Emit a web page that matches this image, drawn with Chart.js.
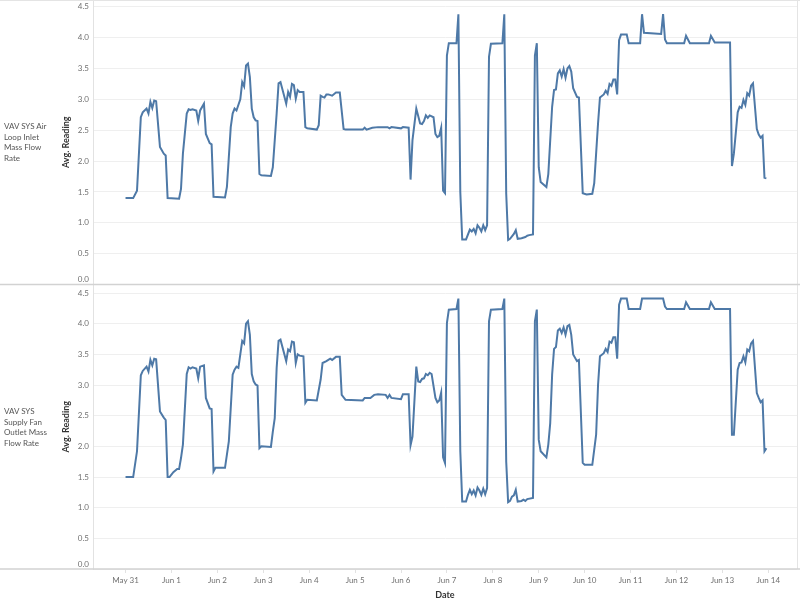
<!DOCTYPE html>
<html>
<head>
<meta charset="utf-8">
<title>VAV SYS mass flow rates</title>
<script src="https://cdn.jsdelivr.net/npm/chart.js@4"></script>
<style>
  body { margin: 0; background: #fff; }
  #wrap { position: relative; width: 800px; height: 606px; }
  .row-label { position: absolute; left: 4px; width: 55px; font-family: Lato, "Noto Sans", sans-serif; font-size: 8px; line-height: 10.5px; color: #555; }
</style>
</head>
<body>
<div id="wrap">
  <canvas id="myChart" width="800" height="606"></canvas>
  <div class="row-label" style="top:121px">VAV SYS Air<br>Loop Inlet<br>Mass Flow<br>Rate</div>
  <div class="row-label" style="top:406px">VAV SYS<br>Supply Fan<br>Outlet Mass<br>Flow Rate</div>
</div>
<script>
'use strict';

let dayLabels = ['May 31', 'Jun 1', 'Jun 2', 'Jun 3', 'Jun 4', 'Jun 5', 'Jun 6', 'Jun 7',
    'Jun 8', 'Jun 9', 'Jun 10', 'Jun 11', 'Jun 12', 'Jun 13', 'Jun 14'];
let yTicks = [0, 0.5, 1, 1.5, 2, 2.5, 3, 3.5, 4, 4.5];

// hours since May 31 00:00, avg. reading at that hour
let inletHours = [
    0, 4, 6, 8, 9, 11, 12, 13, 14, 15, 16, 18, 20, 21, 22,
    28, 29, 30, 32, 33, 34, 35, 37, 38, 39, 41, 42, 44, 45, 46,
    52, 53, 55, 56, 57, 58, 60, 61, 62, 63, 64, 65, 66, 67, 68, 69, 70, 71,
    76, 77, 79, 80, 81, 84, 85, 86, 87, 88, 89, 90, 91, 93, 94, 95,
    100, 101, 102, 103, 104, 105, 106, 108, 110, 112, 114, 115,
    124, 125, 126, 129, 132, 137, 138, 139,
    144, 145, 148, 149, 150, 152, 154, 155, 156, 157, 158, 159, 161, 162, 163, 164, 165, 166, 167,
    168, 169, 173, 174, 175, 176, 178, 180, 181, 182, 183, 184, 185, 186, 187, 188, 189, 190, 191,
    197, 198, 199, 200, 201, 203, 204, 205, 207, 209, 210, 211, 213, 214, 215,
    216, 217, 220, 221, 223, 224, 225, 226, 227, 228, 229, 230, 231, 232, 233, 234, 236, 237, 239,
    241, 244, 245, 247, 248, 250, 251, 252, 253, 254, 255, 256, 257, 258, 259, 262, 263,
    269, 270, 271, 280, 281, 282, 283, 292, 293, 295, 305, 306, 308,
    316, 317, 318, 320, 321, 322, 323, 324, 325, 326, 327, 328, 330, 331, 332, 333, 334, 335
];
let inletValues = [
    1.40, 1.40, 1.52, 2.71, 2.79, 2.85, 2.77, 2.96, 2.86, 2.98, 2.97, 2.23, 2.12, 2.09, 1.40,
    1.39, 1.55, 2.12, 2.77, 2.84, 2.83, 2.84, 2.82, 2.65, 2.82, 2.93, 2.44, 2.29, 2.27, 1.42,
    1.41, 1.58, 2.55, 2.77, 2.85, 2.82, 3.00, 3.28, 3.21, 3.55, 3.58, 3.36, 2.85, 2.71, 2.66, 2.65, 1.79, 1.77,
    1.76, 1.90, 2.77, 3.26, 3.28, 2.93, 3.12, 3.04, 3.25, 3.23, 3.01, 3.15, 3.12, 3.12, 2.55, 2.53,
    2.51, 2.58, 3.06, 3.04, 3.03, 3.08, 3.08, 3.06, 3.11, 3.11, 2.52, 2.51,
    2.51, 2.54, 2.51, 2.54, 2.55, 2.55, 2.53, 2.55,
    2.53, 2.55, 2.54, 1.70, 2.34, 2.85, 2.61, 2.60, 2.65, 2.74, 2.70, 2.74, 2.71, 2.44, 2.39, 2.41, 2.54, 1.52, 1.48,
    3.71, 3.91, 3.91, 4.38, 1.50, 0.73, 0.73, 0.89, 0.86, 0.90, 0.83, 0.96, 0.92, 0.86, 0.96, 0.88, 0.96, 3.69, 3.90,
    3.91, 4.38, 1.47, 0.72, 0.74, 0.82, 0.88, 0.74, 0.75, 0.77, 0.79, 0.80, 0.81, 3.71, 3.91,
    1.90, 1.66, 1.58, 1.79, 2.88, 3.15, 3.16, 3.42, 3.47, 3.37, 3.49, 3.35, 3.50, 3.54, 3.45, 3.18, 3.04, 3.03, 1.48,
    1.46, 1.47, 1.64, 2.61, 3.03, 3.08, 3.14, 3.09, 3.25, 3.22, 3.32, 3.32, 3.08, 3.96, 4.05, 4.05, 3.91,
    3.91, 4.38, 4.08, 4.06, 4.38, 3.97, 3.91, 3.91, 4.03, 3.91, 3.91, 4.03, 3.92,
    3.92, 1.92, 2.12, 2.79, 2.88, 2.86, 2.99, 2.91, 3.10, 3.06, 3.22, 3.26, 2.52, 2.43, 2.38, 2.41, 1.73, 1.72
];

let outletHours = [
    0, 4, 6, 8, 9, 11, 12, 13, 14, 15, 16, 18, 20, 21, 22, 23,
    25, 27, 28, 29, 30, 32, 33, 34, 35, 37, 38, 39, 41, 42, 44, 45, 46, 47,
    52, 54, 56, 57, 58, 59, 60, 61, 62, 63, 64, 65, 66, 67, 68, 69, 70, 71,
    76, 77, 78, 79, 80, 81, 84, 85, 86, 87, 88, 89, 90, 91, 93, 94, 95,
    100, 102, 103, 105, 107, 108, 110, 112, 113, 115,
    124, 125, 128, 130, 132, 136, 137, 138, 139,
    144, 145, 148, 149, 150, 152, 153, 154, 155, 156, 157, 158, 159, 160, 162, 163, 164, 165, 166, 167,
    168, 169, 173, 174, 175, 176, 178, 179, 180, 181, 182, 183, 184, 185, 186, 187, 188, 189, 190, 191,
    197, 198, 199, 200, 201, 202, 203, 204, 205, 207, 208, 209, 210, 213, 214, 215,
    216, 217, 220, 221, 222, 223, 224, 225, 226, 227, 228, 229, 230, 231, 232, 233, 234, 236, 237, 239,
    240, 244, 246, 247, 248, 250, 251, 252, 253, 254, 255, 256, 257, 258, 259, 262, 263,
    269, 270, 281, 282, 283, 292, 293, 295, 305, 306, 308,
    316, 317, 318, 320, 321, 322, 323, 324, 325, 326, 327, 328, 330, 331, 332, 333, 334, 335
];
let outletValues = [
    1.50, 1.50, 1.92, 3.16, 3.23, 3.30, 3.22, 3.41, 3.32, 3.43, 3.42, 2.57, 2.47, 2.43, 1.50, 1.50,
    1.58, 1.63, 1.63, 1.81, 2.03, 3.18, 3.29, 3.27, 3.29, 3.27, 3.11, 3.30, 3.32, 2.79, 2.62, 2.61, 1.59, 1.65,
    1.65, 2.08, 3.17, 3.25, 3.30, 3.28, 3.50, 3.72, 3.68, 4.00, 4.04, 3.82, 3.18, 3.06, 3.01, 2.99, 1.97, 2.00,
    1.99, 2.24, 2.46, 3.28, 3.72, 3.74, 3.39, 3.58, 3.55, 3.71, 3.70, 3.36, 3.50, 3.48, 3.47, 2.71, 2.76,
    2.75, 3.09, 3.36, 3.39, 3.43, 3.41, 3.46, 3.46, 2.84, 2.76,
    2.75, 2.79, 2.79, 2.84, 2.85, 2.84, 2.79, 2.84, 2.79,
    2.77, 2.85, 2.85, 2.02, 2.16, 3.30, 3.06, 3.05, 3.10, 3.11, 3.18, 3.16, 3.20, 3.18, 2.79, 2.72, 2.75, 2.88, 1.82, 1.73,
    4.01, 4.23, 4.24, 4.41, 1.92, 1.10, 1.10, 1.21, 1.29, 1.22, 1.28, 1.20, 1.33, 1.28, 1.21, 1.31, 1.22, 1.32, 4.04, 4.23,
    4.24, 4.41, 1.75, 1.09, 1.11, 1.18, 1.20, 1.29, 1.10, 1.11, 1.13, 1.11, 1.14, 1.16, 4.04, 4.23,
    2.11, 1.92, 1.82, 2.03, 2.38, 3.17, 3.59, 3.62, 3.89, 3.92, 3.85, 3.94, 3.82, 3.96, 3.98, 3.82, 3.50, 3.39, 3.41, 1.73,
    1.70, 1.70, 2.19, 3.00, 3.47, 3.52, 3.59, 3.54, 3.71, 3.69, 3.78, 3.78, 3.43, 4.31, 4.41, 4.41, 4.24,
    4.24, 4.41, 4.41, 4.28, 4.24, 4.24, 4.35, 4.24, 4.24, 4.35, 4.24,
    4.24, 2.19, 2.19, 3.25, 3.36, 3.37, 3.47, 3.37, 3.58, 3.55, 3.68, 3.72, 2.87, 2.79, 2.72, 2.75, 1.92, 1.97
];

Chart.defaults.font.family = 'Lato, "Noto Sans", sans-serif';
Chart.defaults.font.size = 8;

function toPoints(hours, values) {
    return hours.map((h, i) => ({ x: h, y: values[i] }));
}

// grey frame round the panes, the pane rules run the full width like the Tableau sheet
const paneLines = {
    id: 'paneLines',
    afterDraw(chart) {
        let ctx = chart.ctx;
        let s = chart.scales;
        let area = chart.chartArea;
        ctx.save();
        ctx.strokeStyle = '#e4e4e4';
        ctx.lineWidth = 1;
        ctx.beginPath();
        ctx.moveTo(0, 0.5);
        ctx.lineTo(chart.width, 0.5);
        ctx.moveTo(area.right + 0.5, 0);
        ctx.lineTo(area.right + 0.5, area.bottom);
        ctx.stroke();
        ctx.strokeStyle = '#d2d2d2';
        ctx.lineWidth = 1.5;
        [s.yTop.bottom, s.yBottom.bottom].forEach(y => {
            ctx.beginPath();
            ctx.moveTo(0, y);
            ctx.lineTo(chart.width, y);
            ctx.stroke();
        });
        ctx.restore();
    }
};

function paneAxis(max) {
    return {
        type: 'linear',
        position: 'left',
        stack: 'panes',
        stackWeight: 1,
        min: 0,
        max: max,
        afterBuildTicks: s => { s.ticks = yTicks.map(v => ({ value: v })); },
        afterFit: s => { s.width = 37; s.paddingTop = 0; s.paddingBottom = 0; },
        ticks: {
            color: '#707070',
            padding: 4,
            autoSkip: false,
            // 0.0 sits just above the pane edge
            callback: v => v === 0 ? ['0.0', ''] : v.toFixed(1)
        },
        grid: { color: '#efefef', drawTicks: false },
        border: { display: true, color: '#e2e2e2' },
        title: {
            display: true,
            text: 'Avg. Reading',
            color: '#333',
            font: { size: 9, weight: 'bold' },
            padding: { top: 5, bottom: 0 }
        }
    };
}

let ctx = document.getElementById('myChart').getContext('2d');
new Chart(ctx, {
    type: 'line',
    data: {
        datasets: [{
            label: 'VAV SYS Air Loop Inlet Mass Flow Rate',
            data: toPoints(inletHours, inletValues),
            yAxisID: 'yTop',
            borderColor: '#4e79a7',
            borderWidth: 2,
            pointRadius: 0,
            tension: 0
        },
        {
            label: 'VAV SYS Supply Fan Outlet Mass Flow Rate',
            data: toPoints(outletHours, outletValues),
            yAxisID: 'yBottom',
            borderColor: '#4e79a7',
            borderWidth: 2,
            pointRadius: 0,
            tension: 0
        }]
    },
    options: {
        responsive: false,
        animation: false,
        layout: { padding: { left: 56, right: 3, top: 0, bottom: 0 } },
        plugins: { legend: { display: false }, tooltip: { enabled: false } },
        scales: {
            x: {
                type: 'linear',
                position: 'bottom',
                min: -17,
                max: 351,
                afterBuildTicks: s => { s.ticks = dayLabels.map((d, i) => ({ value: i * 24 })); },
                afterFit: s => { s.height = 37; s.paddingLeft = 0; s.paddingRight = 0; },
                ticks: {
                    color: '#707070',
                    padding: 3,
                    maxRotation: 0,
                    autoSkip: false,
                    callback: v => dayLabels[Math.round(v / 24)]
                },
                grid: { drawOnChartArea: false, drawTicks: true, tickLength: 4, color: '#e2e2e2' },
                border: { display: false },
                title: {
                    display: true,
                    text: 'Date',
                    color: '#333',
                    font: { size: 9, weight: 'bold' },
                    padding: { top: 0, bottom: 6 }
                }
            },
            yBottom: paneAxis(4.64),
            yTop: paneAxis(4.61)
        }
    },
    plugins: [paneLines]
});
</script>
</body>
</html>
